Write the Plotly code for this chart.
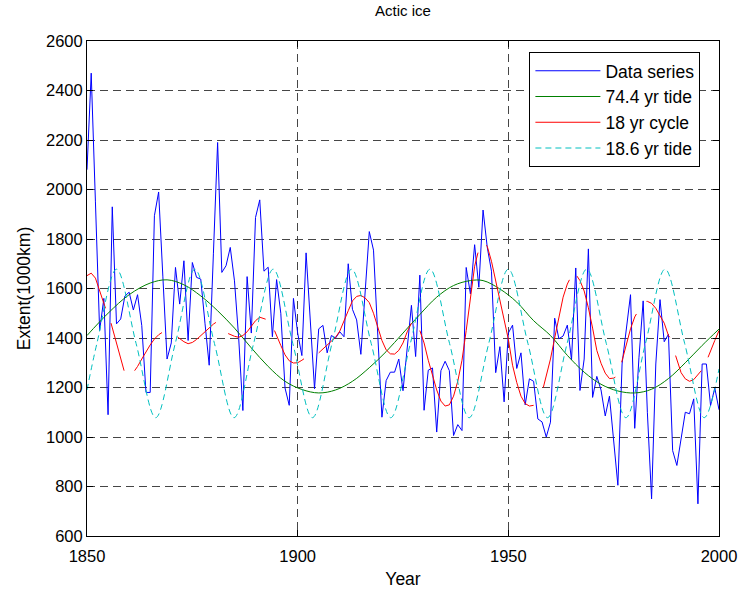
import plotly.graph_objects as go

# ---------------- data ----------------
years = list(range(1850, 2001))
extent = [
    2080, 2470, 1950, 1430, 1560, 1090, 1930, 1457, 1477, 1570,
    1585, 1513, 1575, 1450, 1180, 1180, 1894, 1990, 1650, 1315,
    1380, 1685, 1537, 1712, 1390, 1705, 1645, 1638, 1460, 1290,
    1740, 2190, 1665, 1692, 1766, 1631, 1400, 1107, 1648, 1420,
    1887, 1958, 1670, 1686, 1405, 1636, 1500, 1198, 1128, 1560,
    1420, 1329, 1744, 1460, 1195, 1437, 1451, 1340, 1410, 1400,
    1425, 1405, 1700, 1516, 1473, 1334, 1580, 1830, 1755, 1420,
    1080, 1228, 1262, 1262, 1315, 1187, 1376, 1532, 1325, 1654,
    1108, 1270, 1279, 1020, 1268, 1306, 1268, 1006, 1050, 1026,
    1685, 1578, 1777, 1605, 1917, 1766, 1670, 1260, 1365, 1142,
    1420, 1452, 1277, 1340, 1130, 1235, 1225, 1073, 1061, 1000,
    1060, 1480, 1397, 1408, 1452, 1311, 1683, 1188, 1315, 1760,
    1160, 1245, 1190, 1085, 1165, 990, 805, 1295, 1445, 1575,
    1035, 1320, 1550, 1100, 750, 1295, 1555, 1385, 1415, 945,
    885, 985, 1100, 1094, 1154, 730, 1295, 1295, 1127, 1198,
    1110,
]

tide74_years = [1850, 1855, 1860, 1865, 1869, 1873, 1877, 1881, 1885, 1889,
                1893, 1897, 1901, 1905, 1909, 1913, 1917, 1921, 1925, 1929,
                1933, 1937, 1941, 1944, 1948, 1952, 1956, 1960, 1964, 1968,
                1972, 1976, 1980, 1984, 1988, 1992, 1996, 2000]
tide74_vals = [1410, 1500, 1575, 1622, 1635, 1615, 1570, 1510, 1440, 1360,
               1285, 1225, 1192, 1178, 1190, 1225, 1280, 1345, 1420, 1495,
               1565, 1612, 1632, 1632, 1598, 1545, 1470, 1410, 1330, 1262,
               1213, 1186, 1178, 1193, 1236, 1300, 1370, 1436]

cyc18_years = [1850, 1851, 1852, 1853, 1854, 1854.4, None,
               1855.7, 1856, 1857, 1858, 1858.8, None,
               1861.3, 1862, 1863, 1864, 1865, 1866, 1867, 1867.8, None,
               1871.5, 1872, 1873, 1874, 1875, 1876, 1877, 1878, 1879, 1880, 1880.6, None,
               1883.5, 1884, 1885, 1886, 1887, 1888, 1889, 1890, 1891, 1892, 1892.4, None,
               1894.5, 1895, 1896, 1897, 1898, 1899, 1900, 1901, 1901.5, None,
               1905, 1906, 1907, 1908, 1909, 1910, 1911, 1912, 1913, 1914, 1915, 1916,
               1917, 1918, 1919, 1920, 1921, 1922, 1923, 1924, 1925, 1926, 1927, None,
               1929, 1930, 1931, 1932, 1933, 1934, 1935, 1936, 1937, 1938, 1939, 1940,
               1941, 1942, 1942.8, None,
               1944.8, 1945, 1946, 1947, 1948, 1949, 1950, 1951, 1952, 1953, 1954,
               1955, 1956, None,
               1958.3, 1959, 1960, 1961, 1962, 1963, 1964, 1964.5, None,
               1966.3, 1967, 1968, 1969, 1970, 1971, 1972, 1973, 1974, 1975, 1975.4, None,
               1976.9, 1978, 1979, 1980, 1980.4, None,
               1982.8, 1983, 1984, 1985, 1986, 1987, 1988, 1988.3, None,
               1989.7, 1990, 1991, 1992, 1993, 1994, 1995, 1995.8, None,
               1997.4, 1998, 1999, 2000]
cyc18_vals = [1652, 1662, 1642, 1595, 1540, 1520, None,
              1460, 1442, 1382, 1315, 1268, None,
              1268, 1285, 1315, 1345, 1372, 1396, 1413, 1422, None,
              1404, 1398, 1385, 1377, 1382, 1394, 1410, 1425, 1441, 1456, 1463, None,
              1418, 1414, 1407, 1403, 1410, 1425, 1446, 1470, 1484, 1480, 1476, None,
              1430, 1412, 1370, 1332, 1308, 1299, 1300, 1310, 1316, None,
              1340, 1355, 1372, 1388, 1403, 1428, 1466, 1510, 1550, 1568, 1572, 1562,
              1543, 1500, 1445, 1390, 1352, 1336, 1335, 1350, 1380, 1425, 1460, None,
              1430, 1380, 1310, 1245, 1190, 1145, 1125, 1130, 1165, 1225, 1310, 1430,
              1560, 1690, 1745, None,
              1775, 1770, 1710, 1630, 1545, 1470, 1395, 1290, 1220, 1165, 1135,
              1125, 1128, None,
              1200, 1245, 1315, 1400, 1490, 1565, 1618, 1635, None,
              1650, 1632, 1590, 1522, 1440, 1350, 1298, 1258, 1236, 1238, 1242, None,
              1302, 1375, 1437, 1485, 1497, None,
              1548, 1548, 1540, 1520, 1490, 1460, 1410, 1403, None,
              1329, 1312, 1260, 1235, 1225, 1232, 1252, 1268, None,
              1322, 1350, 1390, 1430]

tide186_years = [1850, 1852.35, 1857.0, 1861.65, 1866.3, 1870.95, 1875.6, 1880.25,
                 1884.9, 1889.55, 1894.2, 1898.85, 1903.5, 1908.15, 1912.8, 1917.45,
                 1922.1, 1926.75, 1931.4, 1936.05, 1940.7, 1945.35, 1950.0, 1954.65,
                 1959.3, 1963.95, 1968.6, 1973.25, 1977.9, 1982.55, 1987.2, 1991.85,
                 1996.5, 2000]
tide186_vals = [1190, 1378, 1678, 1378, 1078, 1378, 1678, 1378,
                1078, 1378, 1678, 1378, 1078, 1378, 1678, 1378,
                1078, 1378, 1678, 1378, 1078, 1378, 1678, 1378,
                1078, 1378, 1678, 1378, 1078, 1378, 1678, 1378,
                1078, 1275]

x_ticks = [1850, 1900, 1950, 2000]
y_ticks = [600, 800, 1000, 1200, 1400, 1600, 1800, 2000, 2200, 2400, 2600]

FONT = "Liberation Sans, Arial, Helvetica, sans-serif"
FS = 17.5
TFS = 16.5

fig = go.Figure()
fig.add_trace(go.Scatter(x=years, y=extent, mode="lines", name="Data series",
                         legendgroup="a",
                         line=dict(color="#0000FF", width=1)))
fig.add_trace(go.Scatter(x=tide74_years, y=tide74_vals, mode="lines", name="74.4 yr tide",
                         legendgroup="b",
                         line=dict(color="#008000", width=1, shape="spline", smoothing=1)))
fig.add_trace(go.Scatter(x=cyc18_years, y=cyc18_vals, mode="lines", name="18 yr cycle",
                         legendgroup="c",
                         line=dict(color="#FF0000", width=1)))
fig.add_trace(go.Scatter(x=tide186_years, y=tide186_vals, mode="lines", name="18.6 yr tide",
                         legendgroup="d",
                         line=dict(color="#00BFBF", width=1, dash="6px,4px",
                                   shape="spline", smoothing=1)))

axis_common = dict(
    showline=True, linecolor="black", linewidth=1, mirror="allticks",
    ticks="inside", ticklen=6, tickcolor="black", tickwidth=1,
    showgrid=True, gridcolor="rgb(70,70,70)", gridwidth=1, griddash="8px,5px",
    zeroline=False, tickfont=dict(family=FONT, size=TFS, color="black"),
    automargin=False,
)

fig.update_layout(
    width=745, height=590,
    margin=dict(l=87, r=26, t=41, b=54),
    paper_bgcolor="white", plot_bgcolor="white",
    font=dict(family=FONT, size=FS, color="black"),
    title=dict(text="Actic ice", x=0.5, xref="paper", xanchor="center",
               y=1 - 11 / 590, yref="container", yanchor="middle",
               font=dict(family=FONT, size=15, color="black")),
    xaxis=dict(range=[1850, 2000], tickvals=x_ticks, ticklabelstandoff=5,
               title=dict(text="Year", standoff=8,
                          font=dict(family=FONT, size=FS, color="black")),
               **axis_common),
    yaxis=dict(range=[600, 2600], tickvals=y_ticks,
               title=dict(text="Extent(1000km)", standoff=10,
                          font=dict(family=FONT, size=FS, color="black")),
               **axis_common),
    legend=dict(x=0.70, y=0.978, xanchor="left", yanchor="top",
                bgcolor="white", bordercolor="black", borderwidth=1,
                font=dict(family=FONT, size=FS, color="black"),
                tracegroupgap=6, itemwidth=65, traceorder="normal"),
)

fig.write_html("out.html")
